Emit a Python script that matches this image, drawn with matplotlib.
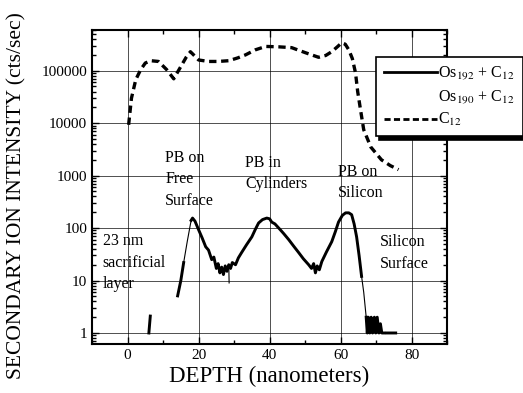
import numpy as np
import matplotlib
matplotlib.use("Agg")
import matplotlib.pyplot as plt
from matplotlib.lines import Line2D
from matplotlib.ticker import FixedLocator, FuncFormatter, LogLocator, NullFormatter

plt.rcParams["font.family"] = ["Liberation Serif", "DejaVu Serif"]
plt.rcParams["mathtext.fontset"] = "stix"

nan = np.nan

# C12 signal (dashed)
c12_depth = [0.3, 1.1, 2.3, 3.7, 5.0, 6.5, 8.7, 11.0, 13.0, 15.0, 16.5,
             17.7, 18.6, 20.0, 22.8, 25.5, 28.5, 31.0, 33.2, 36.0, 38.9,
             42.5, 46.2, 50.1, 53.8, 55.8, 57.5, 59.2, 60.3, 61.3, 62.3,
             63.3, 64.2, 64.8, 65.6, 66.5, 68.5, 71.5, 74.0, 76.3]
c12_counts = [9300, 30000, 67000, 105000, 140000, 155000, 150000, 105000,
              70000, 120000, 180000, 230000, 200000, 160000, 150000,
              150000, 155000, 175000, 200000, 250000, 290000, 285000,
              275000, 220000, 180000, 195000, 230000, 290000, 340000,
              320000, 250000, 170000, 90000, 40000, 18000, 7500, 3500,
              2000, 1550, 1300]

# Os192 + C12 signal (thick solid)
os192_depth = [6.0, 6.4, nan,
               14.1, 15.0, 15.8, nan,
               17.9, 18.3, 19.0, 20.0, 21.0, 22.0, 22.8, 23.7, 24.3, 25.0,
               25.5, 26.0, 26.5, 27.0, 27.5, 28.0, 28.5, 29.0, 29.5, 30.4,
               31.2, 32.1, 33.5, 35.0, 36.0, 36.9, 38.0, 39.2, 40.0, 40.6,
               41.5, 43.0, 44.0, 45.4, 46.8, 48.2, 49.5, 51.0, 51.8, 52.4,
               52.9, 53.4, 54.0, 54.7, 56.0, 57.5, 58.5, 59.4, 60.5, 61.4,
               62.3, 63.1, 63.8, 64.5, 65.2, 65.9, nan,
               67.2, 67.5, 67.8, 68.2, 68.6, 69.0, 69.5, 69.9, 70.3, 70.8,
               71.2, 71.6, 72.2, nan,
               73.0, 75.5]
os192_counts = [1.0, 2.1, nan,
                5.1, 10, 22, nan,
                140, 155, 135, 93, 65, 44, 38, 25, 28, 17,
                21, 14, 18, 13, 19, 15, 20, 17, 22, 20,
                27, 34, 48, 68, 95, 125, 145, 155, 150, 130,
                120, 93, 78, 60, 45, 34, 26, 20, 17, 21,
                14, 19, 16, 23, 35, 55, 85, 130, 175, 195,
                195, 180, 120, 68, 30, 12, nan,
                2.0, 1.0, 2.0, 1.0, 2.0, 1.0, 2.0, 1.0, 2.0, 1.0,
                1.5, 1.0, 1.0, nan,
                1.0, 1.0]

# Os190 + C12 signal (thin)
os190_depth = [15.8, 16.8, 17.9, nan, 28.5, 28.6, nan, 65.9, 66.5, 67.2]
os190_counts = [22, 55, 140, nan, 20, 9, nan, 12, 6, 2.0]

x_ticks = [0, 20, 40, 60, 80]
y_ticks = [1, 10, 100, 1000, 10000, 100000]

notes = [
    (-7.0, 80, "23 nm\nsacrificial\nlayer"),
    (10.6, 3100, "PB on\nFree\nSurface"),
    (33.2, 2500, "PB in\nCylinders"),
    (59.2, 1700, "PB on\nSilicon"),
    (71.0, 76, "Silicon\nSurface"),
]

figure = plt.figure(figsize=(5.23, 3.93), dpi=100)
axis = figure.add_axes([0.176, 0.125, 0.679, 0.799])

axis.plot(c12_depth, c12_counts, color="black", linewidth=2.4,
          linestyle=(0, (2.2, 1.4)))
axis.plot(os192_depth, os192_counts, color="black", linewidth=2.1)
axis.plot(os190_depth, os190_counts, color="black", linewidth=0.8)

axis.set_yscale("log")
axis.set_xlim(-10, 90)
axis.set_ylim(0.62, 6.0e5)

axis.xaxis.set_major_locator(FixedLocator(x_ticks))
axis.xaxis.set_minor_locator(FixedLocator([-10, 10, 30, 50, 70, 90]))
axis.yaxis.set_major_locator(FixedLocator(y_ticks))
axis.yaxis.set_minor_locator(LogLocator(base=10, subs=np.arange(2, 10)))
axis.yaxis.set_major_formatter(FuncFormatter(lambda v, pos: f"{v:g}"))
axis.yaxis.set_minor_formatter(NullFormatter())

axis.tick_params(which="both", direction="in", top=True, right=True,
                 labelsize=11, width=1.0)
axis.tick_params(which="major", length=5)
axis.tick_params(which="minor", length=3)

axis.grid(True, which="major", color="black", linewidth=0.6, alpha=0.8)
for spine in axis.spines.values():
    spine.set_linewidth(1.5)

axis.set_xlabel("DEPTH (nanometers)", fontsize=16.5, labelpad=3)
figure.text(17 / 523, 197 / 393, "SECONDARY ION INTENSITY (cts/sec)",
            fontsize=15.5, rotation=90, ha="center", va="center")

for x, y, text in notes:
    axis.text(x, y, text, fontsize=11.5, ha="left", va="top",
              linespacing=1.45)

handles = [
    Line2D([], [], color="black", linewidth=2.0),
    Line2D([], [], linestyle="none"),
    Line2D([], [], color="black", linewidth=2.0, linestyle=(0, (2.2, 1.2))),
]
labels = ["Os$_{192}$ + C$_{12}$", "Os$_{190}$ + C$_{12}$", "C$_{12}$"]
legend = axis.legend(
    handles, labels,
    loc="upper left",
    bbox_to_anchor=(376 / 523, 1 - 57 / 393),
    bbox_transform=figure.transFigure,
    fontsize=11.5,
    frameon=True,
    fancybox=False,
    shadow={"color": "black", "alpha": 1.0, "ox": 2, "oy": -3},
    handlelength=3.3,
    handletextpad=0.1,
    labelspacing=0.35,
    borderpad=0.5,
    borderaxespad=0,
)
legend.get_frame().set_edgecolor("black")
legend.get_frame().set_linewidth(1.2)

figure.savefig("out.png", dpi=100)
